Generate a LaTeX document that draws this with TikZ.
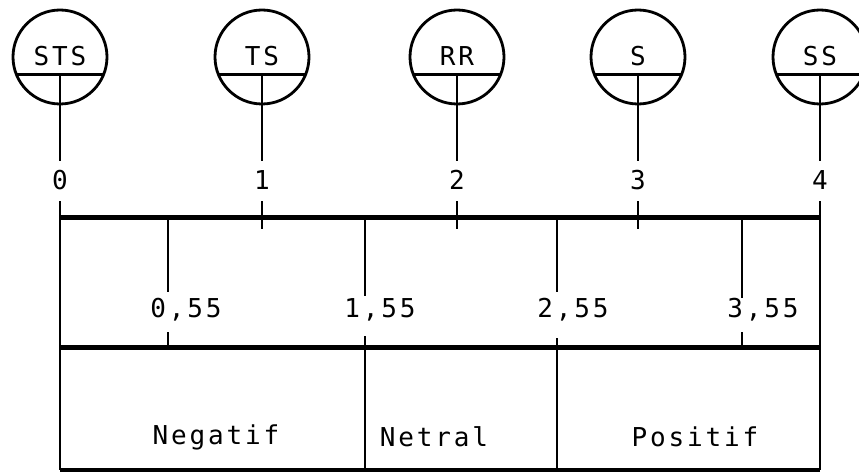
\documentclass[tikz,border=0pt]{standalone}
\usepackage{fontspec}
\newfontfamily\dotfont[LetterSpace=11]{DejaVu Sans Mono}
\begin{document}
\begin{tikzpicture}[x=1pt,y=-1pt,
  txt/.style={font=\dotfont\fontsize{26}{26}\selectfont, inner sep=0pt, outer sep=0pt},
  ring/.style={draw, circle, minimum size=94pt, inner sep=0pt, outer sep=0pt, line width=2.8pt},
  thinln/.style={line width=2.8pt},
  thickln/.style={line width=5pt}]
\useasboundingbox (0,0) rectangle (859,476);
% circles
\foreach \i/\x/\t in {0/60/STS,1/262/TS,2/457/RR,3/638/S,4/820/SS}{
  \node[ring] (c\i) at (\x,57) {};
  \node[txt] (t\i) at (\x,56) {\t};
  \draw[thinln] (c\i.202.5) -- (c\i.-22.5);
  \coordinate (k\i) at (\x,75);
  \node[txt] (n\i) at (\x,180) {\i};
  \coordinate (e\i) at (\x,161);
  \coordinate (s\i) at (\x,201);
  \draw[thinln] (k\i) -- (e\i);
}
% scale ticks
\foreach \i in {1,2,3}{
  \path (s\i) ++(0,28) coordinate (b\i);
  \draw[thinln] (s\i) -- (b\i);
}
% box corners
\coordinate (TL) at (60,217);
\coordinate (TR) at (820,217);
\coordinate (ML) at (60,347);
\coordinate (MR) at (820,347);
\coordinate (BL) at (60,470);
\coordinate (BR) at (820,470);
\draw[thinln] (s0) -- (BL);
\draw[thinln] (s4) -- (BR);
\draw[thickln] (TL) -- (TR);
\draw[thickln] (ML) -- (MR);
\draw[line width=4.5pt] (BL) -- (BR);
% inner verticals
\coordinate (a1) at (168,217); \coordinate (a1e) at (168,292);
\coordinate (a1s) at (168,332); \coordinate (a1b) at (168,347);
\coordinate (a2) at (365,217); \coordinate (a2e) at (365,296);
\coordinate (a2s) at (365,336); \coordinate (a2b) at (365,470);
\coordinate (a3) at (557,217); \coordinate (a3e) at (557,292);
\coordinate (a3s) at (557,338); \coordinate (a3b) at (557,470);
\coordinate (a4) at (742,217); \coordinate (a4e) at (742,298);
\coordinate (a4s) at (742,332); \coordinate (a4b) at (742,347);
\foreach \j in {1,2,3,4}{
  \draw[thinln] (a\j) -- (a\j e);
  \draw[thinln] (a\j s) -- (a\j b);
}
\node[txt] (q1) at (186,310) {0,55};
\node[txt] (q2) at (380,310) {1,55};
\node[txt] (q3) at (573,310) {2,55};
\node[txt] (q4) at (763,310) {3,55};
\node[txt] (neg) at (216,437) {Negatif};
\node[txt] (net) at (434,437) {Netral};
\node[txt] (pos) at (695,437) {Positif};
\end{tikzpicture}
\end{document}
